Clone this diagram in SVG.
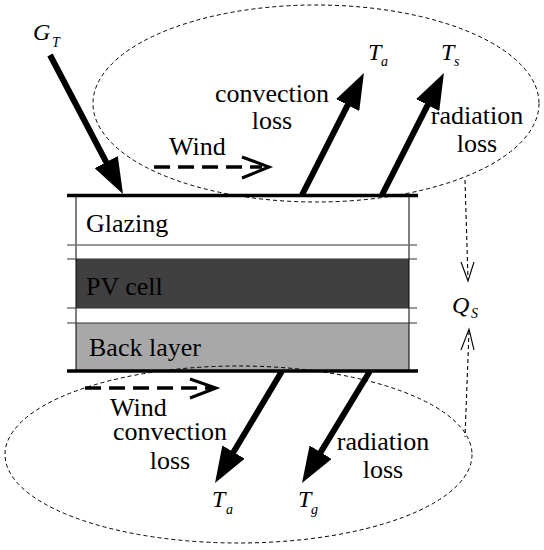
<svg xmlns="http://www.w3.org/2000/svg" width="544" height="550" viewBox="0 0 544 550">
<style>
.t{font-family:"Liberation Serif","Times New Roman",serif;font-size:26px;fill:#000}
.i{font-family:"Liberation Serif","Times New Roman",serif;font-style:italic;font-size:24px;fill:#000}
.s{font-family:"Liberation Serif","Times New Roman",serif;font-style:italic;font-size:14px;fill:#000}
.big{stroke:#000;stroke-width:6;fill:none}
.wind{stroke:#000;stroke-width:3.5;stroke-dasharray:16 8;fill:none}
.open{stroke:#000;stroke-width:3;fill:none}
.thin{stroke:#000;stroke-width:1.1;stroke-dasharray:4 3;fill:none}
.ell{stroke:#000;stroke-width:1;stroke-dasharray:4 3;fill:none}
</style>
<defs>
<marker id="ah" markerUnits="userSpaceOnUse" viewBox="0 0 36 26" markerWidth="36" markerHeight="26" refX="16" refY="13" orient="auto">
<path d="M0,0 L36,13 L0,26 z" fill="#000"/>
</marker>
</defs>
<rect width="544" height="550" fill="#fff"/>
<g id="layers">
<rect x="76" y="196" width="333" height="49" fill="#fff"/>
<rect x="76" y="259" width="333" height="49" fill="#404040"/>
<rect x="76" y="323" width="333" height="47" fill="#a8a8a8"/>
<line x1="76" y1="196" x2="76" y2="370" stroke="#000" stroke-width="1"/>
<line x1="409" y1="196" x2="409" y2="370" stroke="#000" stroke-width="1"/>
<line x1="67" y1="245" x2="417" y2="245" stroke="#777" stroke-width="1.5"/>
<line x1="67" y1="259" x2="417" y2="259" stroke="#333" stroke-width="1"/>
<line x1="67" y1="308" x2="417" y2="308" stroke="#333" stroke-width="1"/>
<line x1="67" y1="323" x2="417" y2="323" stroke="#333" stroke-width="1"/>
<line x1="67" y1="195.5" x2="418" y2="195.5" stroke="#000" stroke-width="3.5"/>
<line x1="67" y1="371" x2="418" y2="371" stroke="#000" stroke-width="3.5"/>
<text class="t" x="86" y="232">Glazing</text>
<text class="t" x="86" y="295">PV cell</text>
<text class="t" x="89" y="356">Back layer</text>
</g>
<g id="ellipses">
<ellipse class="ell" cx="316" cy="103.5" rx="223" ry="98.5"/>
<ellipse class="ell" cx="238.5" cy="454.5" rx="233.5" ry="88.5"/>
</g>
<g id="connectors">
<line class="big" x1="50" y1="55" x2="113.7" y2="176.3" marker-end="url(#ah)"/>
<line class="big" x1="302" y1="195" x2="354.9" y2="90.8" marker-end="url(#ah)"/>
<line class="big" x1="382" y1="195" x2="434.9" y2="90.8" marker-end="url(#ah)"/>
<line class="big" x1="282" y1="371" x2="225.3" y2="465.8" marker-end="url(#ah)"/>
<line class="big" x1="370" y1="371" x2="312.4" y2="465.9" marker-end="url(#ah)"/>
<line class="wind" x1="154" y1="167" x2="262" y2="167"/>
<polyline class="open" points="242,157 269,167 242,178"/>
<line class="wind" x1="85" y1="388" x2="214" y2="388"/>
<polyline class="open" points="190,379 216,388 190,398"/>
<line class="thin" x1="465" y1="180" x2="468" y2="279"/>
<polyline points="461,262 468,281 474,262" fill="none" stroke="#000" stroke-width="1.1"/>
<line class="thin" x1="469" y1="331" x2="465" y2="437"/>
<polyline points="461,350 469,329 474,350" fill="none" stroke="#000" stroke-width="1.1"/>
</g>
<g id="labels">
<text class="i" x="33" y="40">G</text><text class="s" x="52" y="47">T</text>
<text class="i" x="368" y="60">T</text><text class="s" x="381" y="66">a</text>
<text class="i" x="441" y="60">T</text><text class="s" x="454" y="66">s</text>
<text class="i" x="212" y="507">T</text><text class="s" x="226" y="514">a</text>
<text class="i" x="298" y="507">T</text><text class="s" x="311" y="514">g</text>
<text class="i" x="452" y="313">Q</text><text class="s" x="471" y="318">S</text>
<text class="t" x="272" y="102" text-anchor="middle">convection</text>
<text class="t" x="272" y="129" text-anchor="middle">loss</text>
<text class="t" x="169" y="155">Wind</text>
<text class="t" x="477" y="124" text-anchor="middle">radiation</text>
<text class="t" x="477" y="152" text-anchor="middle">loss</text>
<text class="t" x="110" y="416">Wind</text>
<text class="t" x="170" y="440" text-anchor="middle">convection</text>
<text class="t" x="170" y="469" text-anchor="middle">loss</text>
<text class="t" x="383" y="450" text-anchor="middle">radiation</text>
<text class="t" x="383" y="478" text-anchor="middle">loss</text>
</g>
</svg>
